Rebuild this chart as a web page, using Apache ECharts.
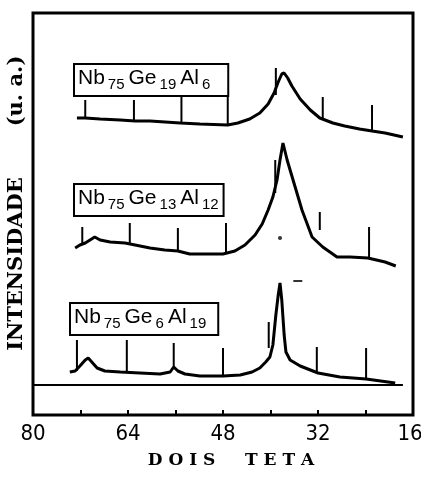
<!DOCTYPE html>
<html>
<head>
<meta charset="utf-8">
<script src="https://cdn.jsdelivr.net/npm/echarts@6/dist/echarts.min.js"></script>
<style>
  html, body { margin: 0; padding: 0; background: #fff; }
  #chart { width: 421px; height: 484px; }
</style>
</head>
<body>
<div id="chart"></div>
<script>
// ---- Data (2θ in degrees, intensity in arbitrary units incl. vertical offset) ----
const xTicks = [80, 64, 48, 32, 16];

// Nb75Ge19Al6 (top pattern)
const topTheta = [72.6, 71.2, 68.7, 65.3, 62.8, 60.3, 55.2, 51.9, 47.2, 45.5, 43.5, 41.8, 40.4, 39.4, 38.7, 38.1, 37.7, 37.1, 36.4, 35.0, 33.3, 31.7, 29.5, 27.5, 25.0, 22.9, 20.7, 17.7];
const topInt   = [297, 297, 296, 295, 294, 294, 292, 291, 290, 292, 296, 302, 311, 322, 333, 341, 342, 337, 329, 316, 305, 297, 292, 289, 286, 284, 282, 278];

// Nb75Ge13Al12 (middle pattern)
const midTheta = [72.9, 72.1, 71.2, 70.4, 69.6, 68.7, 67.0, 64.5, 62.8, 60.3, 57.8, 55.6, 53.6, 51.0, 48.0, 46.0, 44.3, 42.6, 41.4, 40.4, 39.6, 38.9, 38.4, 37.9, 37.2, 36.2, 34.7, 33.0, 31.2, 28.8, 26.6, 23.6, 20.7, 18.9];
const midInt   = [167, 170, 172, 175, 178, 175, 173, 172, 170, 167, 165, 164, 161, 161, 161, 164, 170, 180, 191, 205, 218, 235, 255, 272, 255, 235, 205, 178, 168, 158, 158, 157, 153, 149];

// Nb75Ge6Al19 (bottom pattern)
const botTheta = [73.8, 72.9, 72.1, 71.2, 70.7, 70.1, 69.2, 67.9, 65.3, 62.0, 58.6, 56.9, 56.3, 55.6, 54.4, 51.9, 48.0, 45.1, 43.1, 41.8, 40.8, 40.1, 39.6, 39.1, 38.7, 38.4, 38.1, 37.7, 37.4, 36.7, 35.0, 32.0, 28.3, 23.9, 19.0];
const botInt   = [43, 44, 49, 55, 57, 53, 47, 44, 43, 42, 41, 43, 48, 44, 41, 39, 39, 40, 43, 47, 53, 58, 70, 100, 120, 132, 115, 80, 63, 55, 49, 42, 38, 36, 32];

// Reference (stick) lines: position, lower end, upper end
const topSticksTheta = [71.2, 63.0, 55.0, 47.2, 39.1, 31.2, 22.9];
const topSticksLow   = [297, 294, 292, 290, 320, 295, 285];
const topSticksHigh  = [315, 315, 318, 318, 347, 318, 310];

const midSticksTheta = [71.7, 63.7, 55.6, 47.5, 39.2, 31.7, 23.4];
const midSticksLow   = [171, 171, 164, 161, 222, 185, 157];
const midSticksHigh  = [188, 192, 187, 192, 255, 203, 188];

const botSticksTheta = [72.6, 64.2, 56.3, 48.0, 40.3, 32.2, 23.9];
const botSticksLow   = [44, 43, 48, 39, 67, 42, 37];
const botSticksHigh  = [75, 75, 72, 67, 93, 68, 67];

// Base line under the lowest pattern
const baseTheta = [80, 17.7];
const baseInt   = [30, 30];

// Small marks present in the original figure
const dotTheta = [38.4];
const dotInt   = [177];
const dashTheta = [35.4];
const dashInt   = [134];

const sampleLabels = [
  ['Nb', '75', 'Ge', '19', 'Al', '6'],
  ['Nb', '75', 'Ge', '13', 'Al', '12'],
  ['Nb', '75', 'Ge', '6', 'Al', '19']
];
const xTitle = 'D O I S     T E T A';
const yTitleMain = 'INTENSIDADE';
const yTitleUnit = '(u. a.)';

// ---- Build ----
const zip = (a, b) => a.map((v, i) => [v, b[i]]);
const zip3 = (a, b, c) => a.map((v, i) => [v, b[i], c[i]]);

const SANS = '"Liberation Sans", "DejaVu Sans", sans-serif';
const NARROW = '"Liberation Sans Narrow", "DejaVu Sans Condensed", "Liberation Sans", sans-serif';
const SERIF = '"DejaVu Serif", "Liberation Serif", serif';

function stickSeries(data) {
  return {
    type: 'custom',
    data: data,
    encode: { x: 0, y: [1, 2] },
    silent: true,
    renderItem: function (params, api) {
      const p0 = api.coord([api.value(0), api.value(1)]);
      const p1 = api.coord([api.value(0), api.value(2)]);
      return {
        type: 'line',
        shape: { x1: p0[0], y1: p0[1], x2: p1[0], y2: p1[1] },
        style: { stroke: '#000', lineWidth: 2 }
      };
    }
  };
}

function curve(data, w) {
  return {
    type: 'line', data: data, symbol: 'none', smooth: false, silent: true,
    lineStyle: { color: '#000', width: w }
  };
}

function labelRich(parts) {
  return `{m|${parts[0]}}{s|${parts[1]}}{m|${parts[2]}}{s|${parts[3]}}{m|${parts[4]}}{s|${parts[5]}}`;
}
const richStyle = {
  m: { fontSize: 21, fontFamily: SANS, verticalAlign: 'top', lineHeight: 24, fill: '#000' },
  s: { fontSize: 15, fontFamily: SANS, verticalAlign: 'bottom', lineHeight: 14, fill: '#000', padding: [0, 4, 0, 3] }
};
function labelBox(parts, x, y, padRight) {
  return {
    type: 'text', left: x, top: y, silent: true,
    style: {
      text: labelRich(parts), rich: richStyle,
      fill: '#000', backgroundColor: '#fff',
      borderColor: '#000', borderWidth: 2, padding: [3, padRight, 3, 3], lineHeight: 28
    }
  };
}

const chart = echarts.init(document.getElementById('chart'), null, { renderer: 'canvas' });
chart.setOption({
  animation: false,
  backgroundColor: '#fff',
  grid: {
    left: 33, right: 8, top: 13, bottom: 69, containLabel: false, outerBoundsMode: 'none',
    show: true, borderColor: '#000', borderWidth: 3, backgroundColor: 'transparent'
  },
  xAxis: {
    type: 'value', min: 16, max: 80, interval: 8, inverse: true,
    axisLine: { show: false },
    axisTick: { show: true, inside: true, length: 5, lineStyle: { color: '#000', width: 2 } },
    splitLine: { show: false },
    axisLabel: {
      margin: 8, color: '#000', fontSize: 22, fontFamily: NARROW,
      showMinLabel: true, showMaxLabel: true, hideOverlap: false,
      formatter: v => (xTicks.indexOf(v) >= 0 ? (v === 16 ? '{r|' + v + '}' : String(v)) : ''),
      rich: { r: { fontSize: 22, fontFamily: NARROW, color: '#000', padding: [0, 6, 0, 0] } }
    }
  },
  yAxis: { type: 'value', min: 0, max: 402, show: false },
  series: [
    curve(zip(baseTheta, baseInt), 2),
    curve(zip(topTheta, topInt), 3),
    curve(zip(midTheta, midInt), 3),
    curve(zip(botTheta, botInt), 3),
    stickSeries(zip3(topSticksTheta, topSticksLow, topSticksHigh)),
    stickSeries(zip3(midSticksTheta, midSticksLow, midSticksHigh)),
    stickSeries(zip3(botSticksTheta, botSticksLow, botSticksHigh)),
    { type: 'scatter', data: zip(dotTheta, dotInt), symbol: 'circle', symbolSize: 4, itemStyle: { color: '#000' }, silent: true },
    { type: 'scatter', data: zip(dashTheta, dashInt), symbol: 'rect', symbolSize: [9, 2], itemStyle: { color: '#000' }, silent: true }
  ],
  graphic: [
    labelBox(sampleLabels[0], 73, 63, 13),
    labelBox(sampleLabels[1], 73, 183, 0),
    labelBox(sampleLabels[2], 69, 302, 7),
    {
      type: 'text', x: 231, y: 461, silent: true,
      style: { text: xTitle, font: 'bold 17px ' + SERIF, fill: '#000', align: 'center', verticalAlign: 'middle' }
    },
    {
      type: 'text', x: 17, y: 264, rotation: Math.PI / 2, silent: true,
      style: { text: yTitleMain, font: 'bold 21px ' + SERIF, fill: '#000', align: 'center', verticalAlign: 'middle' }
    },
    {
      type: 'text', x: 17, y: 91, rotation: Math.PI / 2, silent: true,
      style: { text: yTitleUnit, font: 'bold 21px ' + SERIF, fill: '#000', align: 'center', verticalAlign: 'middle' }
    }
  ]
});
</script>
</body>
</html>
